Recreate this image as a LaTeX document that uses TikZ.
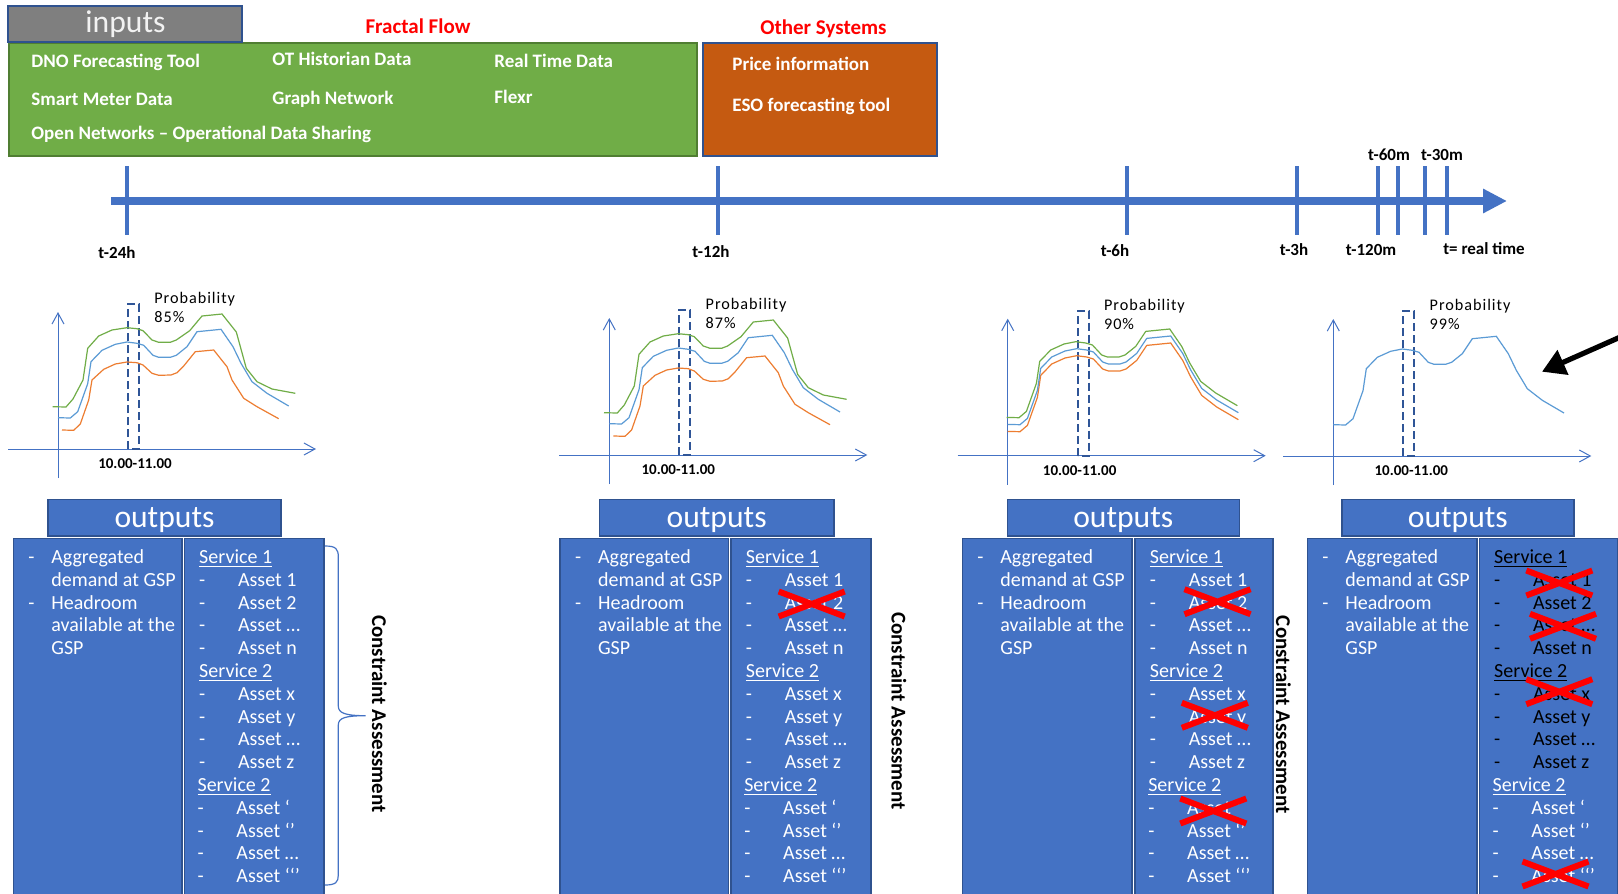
\documentclass[tikz,border=0pt]{standalone}
\usepackage{fontspec}
\setmainfont{Carlito}
\newfontfamily\trackedfont[LetterSpace=6]{Carlito}
\usetikzlibrary{arrows.meta}

\definecolor{accblue}{HTML}{4472C4}
\definecolor{edgeblue}{HTML}{2F528F}
\definecolor{leafgreen}{HTML}{70AD47}
\definecolor{leafedge}{HTML}{507E32}
\definecolor{rust}{HTML}{C55A11}
\definecolor{slate}{HTML}{7F7F7F}
\definecolor{lineblue}{HTML}{5B9BD5}
\definecolor{lineorange}{HTML}{ED7D31}
\definecolor{winblue}{HTML}{2F5597}

% forecast curves, relative to the chart origin
\def\curvegreen{(-5.3,-42.3) -- (8,-42) -- (15,-50) -- (25,-69) -- (29.7,-100.7) -- (40.7,-113) -- (54,-119) -- (69,-121.3) -- (79,-120.3) -- (85,-118.3) -- (94,-109) -- (100.7,-106.7) -- (112.3,-106.7) -- (118.3,-109) -- (131.7,-118.3) -- (144,-133) -- (164,-135) -- (178.3,-117) -- (188.3,-80.7) -- (199,-67.3) -- (214,-60) -- (237.3,-55.7)}
\def\curveblue{(0,-31.3) -- (12.3,-31) -- (19.7,-37.3) -- (29.7,-65.3) -- (33,-87.3) -- (44,-98.7) -- (57.3,-104.7) -- (69,-107) -- (79,-105.7) -- (85.7,-103.7) -- (95,-93.7) -- (100.7,-91.7) -- (112.3,-91.7) -- (118.3,-93.7) -- (129,-102.3) -- (139,-117.3) -- (163,-119.7) -- (175,-102.3) -- (183,-85.7) -- (194,-67.3) -- (209,-55.7) -- (230.7,-43)}
\def\curveorange{(4,-19) -- (15.7,-18.7) -- (22.3,-25) -- (30.7,-49) -- (34,-69) -- (45.7,-79.7) -- (57.3,-85) -- (69,-87) -- (79,-86.3) -- (85,-84) -- (94,-75.7) -- (100.7,-73.7) -- (113,-74) -- (119,-76.3) -- (125.7,-83) -- (137.3,-97.3) -- (155.7,-99) -- (169,-82.3) -- (174,-69) -- (185.7,-50.7) -- (199,-42.3) -- (220.7,-30.3)}

% axes, time window and labels of one chart
\newcommand{\chartframe}[6]{% #1 name, #2 origin x, #3 origin y, #4 probability, #5 window label x, #6 curves
  \begin{scope}[shift={(#2,#3)}]
    \draw[axisline] (-50,0) -- (258,0);
    \draw[axisline] (0,29) -- (0,-137);
    \draw[window] (70,0) rectangle (81,-145);
    \node[probtext] (#1prob) at (96,-145.5) {Probability};
    \node[probtext] (#1val) at (96,-126.5) {#4};
    \node[windowtext] (#1win) at (#5,19.8) {10.00-11.00};
    #6
  \end{scope}}

\newcommand{\assetlead}{\makebox[19.45pt][l]{-}}
\newcommand{\itemlead}{\makebox[11.5pt][l]{-}}

% left column of an output panel
\newcommand{\leftcol}[2]{% #1 name, #2 box left x
  \node[otext] (#1l0) at (#2+14.7, 563.5) {\itemlead Aggregated};
  \node[otext] (#1l1) at (#2+37.7, 586.3) {demand at GSP};
  \node[otext] (#1l2) at (#2+14.7, 609.1) {\itemlead Headroom};
  \node[otext] (#1l3) at (#2+37.7, 631.9) {available at the};
  \node[otext] (#1l4) at (#2+37.7, 654.7) {GSP};}

% right column of an output panel
\newcommand{\rightcol}[3]{% #1 name, #2 box left x, #3 colour of the first two groups
  \node[otext,text=#3] (#1s1) at (#2+14.5, 563.5) {\underline{Service 1}};
  \node[otext,text=#3] (#1a1) at (#2+14.5, 586.3) {\assetlead Asset 1};
  \node[otext,text=#3] (#1a2) at (#2+14.5, 609.1) {\assetlead Asset 2};
  \node[otext,text=#3] (#1a3) at (#2+14.5, 631.9) {\assetlead Asset …};
  \node[otext,text=#3] (#1a4) at (#2+14.5, 654.7) {\assetlead Asset n};
  \node[otext,text=#3] (#1s2) at (#2+14.5, 677.5) {\underline{Service 2}};
  \node[otext,text=#3] (#1b1) at (#2+14.5, 700.3) {\assetlead Asset x};
  \node[otext,text=#3] (#1b2) at (#2+14.5, 723.1) {\assetlead Asset y};
  \node[otext,text=#3] (#1b3) at (#2+14.5, 745.9) {\assetlead Asset …};
  \node[otext,text=#3] (#1b4) at (#2+14.5, 768.7) {\assetlead Asset z};
  \node[otext] (#1s3) at (#2+12.9, 791.5) {\underline{Service 2}};
  \node[otext] (#1c1) at (#2+12.9, 814.3) {\assetlead Asset ‘};
  \node[otext] (#1c2) at (#2+12.9, 837.1) {\assetlead Asset ‘’};
  \node[otext] (#1c3) at (#2+12.9, 859.9) {\assetlead Asset …};
  \node[otext] (#1c4) at (#2+12.9, 882.7) {\assetlead Asset ‘‘’};}

% header and the two columns of an output panel
\newcommand{\outframe}[6]{% #1 name, #2/#3 header x, #4 left box x, #5 split x, #6 right x
  \draw[panel] (#4,538.5) rectangle (#5-1.3,900);
  \draw[panel] (#5+1.3,538.5) rectangle (#6,900);
  \draw[panel] (#2,499.3) rectangle (#3,536);
  \node[headtext] (#1head) at ({(#2+#3)/2}, 527.7) {outputs};}

% red strike-through
\newcommand{\strike}[2]{%
  \draw[xmark] (#1-33,#2-12.5) -- (#1+33,#2+12.5) (#1-33,#2+12.5) -- (#1+33,#2-12.5);}

\begin{document}
\begin{tikzpicture}[x=0.5pt,y=-0.5pt,
  panel/.style={draw=edgeblue, fill=accblue, line width=0.8pt},
  headtext/.style={font=\fontsize{15.8}{18}\selectfont, text=white, anchor=base, inner sep=0},
  otext/.style={font=\fontsize{10}{12}\selectfont, text=white, anchor=base west, inner sep=0},
  srctext/.style={font=\fontsize{9.5}{11}\selectfont\bfseries, text=white, anchor=base west, inner sep=0},
  titletext/.style={font=\fontsize{10.5}{12}\selectfont\bfseries, text=red, anchor=base, inner sep=0},
  timetext/.style={font=\fontsize{8.5}{10}\selectfont\bfseries, anchor=base, inner sep=0},
  probtext/.style={font=\trackedfont\fontsize{8.1}{10}\selectfont, anchor=base west, inner sep=0},
  windowtext/.style={font=\fontsize{7.5}{9}\selectfont\bfseries, anchor=base, inner sep=0},
  sidetext/.style={font=\fontsize{10.5}{12}\selectfont\bfseries, rotate=-90, inner sep=0},
  axisline/.style={draw=accblue, line width=0.5pt, -{Straight Barb[length=5.5pt,width=6pt]}},
  window/.style={draw=winblue, line width=1pt, dash pattern=on 4pt off 2pt},
  cgreen/.style={draw=leafgreen, line width=0.6pt},
  cblue/.style={draw=lineblue, line width=0.6pt},
  corange/.style={draw=lineorange, line width=0.6pt},
  tick/.style={draw=accblue, line width=2pt},
  xmark/.style={draw=red, line width=3pt},
]
\useasboundingbox (0,0) rectangle (1618,894);
\fill[white] (0,0) rectangle (1618,894);

% ---------- data sources ----------
\draw[draw=leafedge, fill=leafgreen, line width=0.8pt] (9,42.7) rectangle (697,156);
\draw[draw=edgeblue, fill=rust, line width=0.8pt] (703,42.7) rectangle (937,156);
\draw[draw=edgeblue, fill=slate, line width=0.8pt] (8,6) rectangle (242,42);
\node[headtext, text=white!95!black] (inputs) at (125.5,32.7) {inputs};
\node[titletext] (fractal) at (418,33.3) {Fractal Flow};
\node[titletext] (othersys) at (823.5,34.8) {Other Systems};

\node[srctext] (dno) at (31,67) {DNO Forecasting Tool};
\node[srctext] (ot) at (272,65) {OT Historian Data};
\node[srctext] (rtd) at (494,67) {Real Time Data};
\node[srctext] (smart) at (31,105.5) {Smart Meter Data};
\node[srctext] (graph) at (272,104) {Graph Network};
\node[srctext] (flexr) at (494,103) {Flexr};
\node[srctext] (open) at (31,139) {Open Networks – Operational Data Sharing};
\node[srctext] (price) at (732,70) {Price information};
\node[srctext] (eso) at (732,111) {ESO forecasting tool};

% ---------- timeline ----------
\coordinate (tstart) at (111,201);
\coordinate (tend) at (1507,201);
\draw[draw=accblue, line width=3.75pt, -{Triangle[length=12pt,width=11.5pt]}] (tstart) -- (tend);
\foreach \x in {127,718,1127,1297,1378,1398,1425,1447}
  \draw[tick] (\x,166) -- (\x,235);
\node[timetext] (t24) at (117,258) {t-24h};
\node[timetext] (t12) at (711,257) {t-12h};
\node[timetext] (t6) at (1115,256) {t-6h};
\node[timetext] (t3) at (1294,255) {t-3h};
\node[timetext] (t120) at (1371,255) {t-120m};
\node[timetext] (tnow) at (1484,254) {t= real time};
\node[timetext] (t60) at (1389,160.5) {t-60m};
\node[timetext] (t30) at (1442,160.5) {t-30m};

% ---------- forecast charts ----------
\chartframe{ca}{58}{449}{85\%}{77}{%
  \draw[cgreen] \curvegreen; \draw[cblue] \curveblue; \draw[corange] \curveorange;}
\chartframe{cb}{609.3}{455}{87\%}{69}{%
  \draw[cgreen] \curvegreen; \draw[cblue] \curveblue; \draw[corange] \curveorange;}
\chartframe{cc}{1007.7}{455.7}{90\%}{72}{%
  \begin{scope}[shift={(-1,-7)}]\draw[cgreen] \curveblue;\end{scope}
  \begin{scope}[shift={(0,7)}]\draw[corange] \curveblue;\end{scope}
  \draw[cblue] \curveblue;}
\chartframe{cd}{1333.3}{456}{99\%}{78}{%
  \draw[cblue] \curveblue;}

\coordinate (pointertail) at (1626,334.5);
\coordinate (pointertip) at (1542,371.7);
\draw[black, line width=2.6pt, -{Triangle[length=11.5pt,width=13pt]}] (pointertail) -- (pointertip);

% ---------- output panels ----------
\outframe{pa}{48}{281}{13.3}{183}{324}
\leftcol{pa}{13.3}
\rightcol{pa}{184.3}{white}

\outframe{pb}{599.3}{834}{560}{729.6}{870.7}
\leftcol{pb}{560}
\rightcol{pb}{731}{white}
\strike{811.7}{604}

\outframe{pc}{1007.3}{1239.3}{962.3}{1133.4}{1272.7}
\leftcol{pc}{962.3}
\rightcol{pc}{1135}{white}
\strike{1217.5}{601.7}
\strike{1214.8}{715.3}
\strike{1213.3}{811}

\outframe{pd}{1341.7}{1574}{1307.3}{1478}{1617.7}
\leftcol{pd}{1307.3}
\rightcol{pd}{1479.3}{black}
\strike{1559.3}{583}
\strike{1563}{626.3}
\strike{1559.3}{691.7}
\strike{1555.5}{874}

% constraint assessment labels and brace
\node[sidetext] (capa) at (379.5,714) {Constraint Assessment};
\node[sidetext] (capb) at (899,711) {Constraint Assessment};
\node[sidetext] (capc) at (1283.3,714.7) {Constraint Assessment};
\draw[draw=accblue, line width=0.6pt] (325,546) .. controls (336,546) and (338.3,549) .. (338.3,557)
  -- (338.3,706) .. controls (338.3,713) and (345,715.7) .. (365.7,715.7)
  .. controls (345,715.7) and (338.3,718) .. (338.3,725)
  -- (338.3,875) .. controls (338.3,882) and (336,885) .. (325,885);
\end{tikzpicture}
\end{document}
